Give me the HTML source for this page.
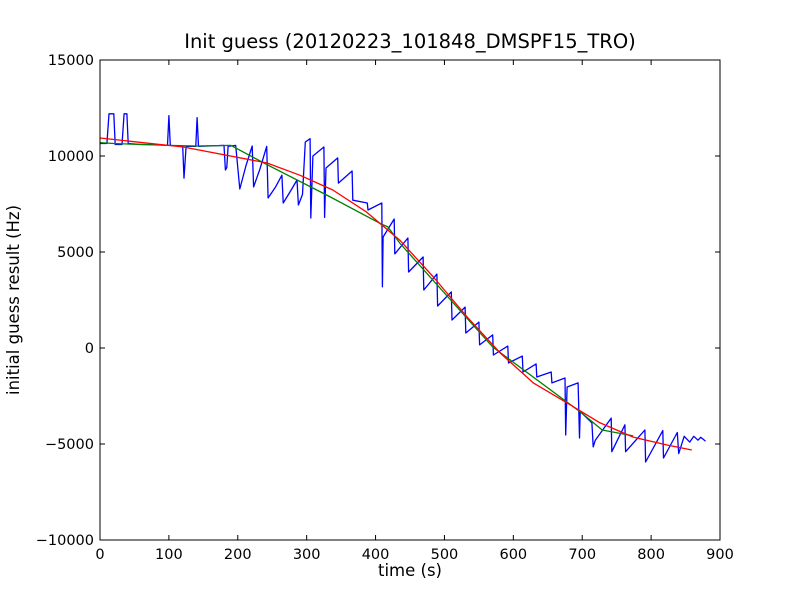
<!DOCTYPE html>
<html><head><meta charset="utf-8"><style>
body{margin:0;background:#fff;}
svg text{font-family:"DejaVu Sans","Liberation Sans",sans-serif;fill:#000;}
</style></head><body>
<svg id="chart" width="800" height="600" xmlns="http://www.w3.org/2000/svg">
<rect x="0" y="0" width="800" height="600" fill="#fff"/>
<text x="410" y="48" font-size="19.5" text-anchor="middle">Init guess (20120223_101848_DMSPF15_TRO)</text>
<g id="plot"></g>
<rect x="100" y="60" width="620" height="480" fill="none" stroke="#000" stroke-width="1"/>
<text x="410" y="576" font-size="16.5" text-anchor="middle">time (s)</text>
<text x="19" y="300" font-size="16.5" text-anchor="middle" transform="rotate(-90 19 300)">initial guess result (Hz)</text>
</svg>
<script>
const xTicks=[0,100,200,300,400,500,600,700,800,900];
const yTicks=[-10000,-5000,0,5000,10000,15000];
const blueT=[0,10,13,20,22,32,35,39,41,60,80,98,100,102,120,122,125,139,141,143,180,182,184,186,197,203,212,221,223,232,242,244,255,264,266,277,286,288,294,298,305,306,309,325,326,328,345,346,366,367,388,389,409,410,411,427,428,447,448,469,470,489,490,510,511,530,531,550,551,570,571,592,593,613,614,633,634,655,656,675,676,678,694,696,697,714,716,719,742,743,762,763,791,792,817,818,838,840,848,856,862,868,872,879];
const blueV=[10650,10650,12200,12200,10600,10600,12200,12200,10650,10600,10600,10550,12100,10550,10500,8850,10500,10500,12000,10500,10550,9270,9400,10500,10550,8280,9500,10520,8390,9300,10500,7810,8400,9000,7550,8200,8750,7450,8000,10730,10900,6770,10000,10470,6800,9375,9900,8590,9220,7700,7550,7190,7550,3180,5780,6720,4900,5730,3960,4740,3020,3850,2190,2920,1460,2130,780,1350,160,680,-365,100,-780,-420,-1250,-830,-1510,-1250,-1820,-1560,-4530,-2030,-1820,-4690,-3300,-3900,-5150,-4800,-3650,-5400,-4000,-5400,-4270,-5940,-4300,-5730,-4400,-5500,-4600,-4900,-4600,-4800,-4650,-4850];
const greenT=[0,20,60,100,140,190,245,329,406,418,435,570,697,729,774];
const greenV=[10700,10650,10600,10550,10520,10550,9500,7970,6500,6300,5470,50,-3330,-4270,-4580];
const redT=[0,121,242,290,338,387,435,484,533,581,629,678,726,774,823,859];
const redV=[10940,10470,9640,9000,8230,7080,5620,3700,1610,-260,-1820,-2860,-3900,-4640,-5050,-5310];
const X0=100,X1=720,Y0=540,Y1=60;
const xs=t=>X0+(t-0)/(900-0)*(X1-X0);
const ys=v=>Y0-(v+10000)/25000*(Y0-Y1);
const NS='http://www.w3.org/2000/svg';
const svg=document.getElementById('chart');
const plot=document.getElementById('plot');
function mk(tag,attrs,parent){const e=document.createElementNS(NS,tag);for(const k in attrs)e.setAttribute(k,attrs[k]);parent.appendChild(e);return e;}
xTicks.forEach(t=>{
  const x=xs(t);
  const a=mk('line',{x1:x,x2:x,y1:Y0,y2:Y0-5,stroke:'#000'},svg);
  
  
  const b=mk('line',{x1:x,x2:x,y1:Y1,y2:Y1+5,stroke:'#000'},svg);
  
  
  const l=mk('text',{x:x,y:Y0+19,'font-size':14.5,'text-anchor':'middle'},svg);
  l.textContent=t;
  
  
});
yTicks.forEach(v=>{
  const y=ys(v);
  const a=mk('line',{x1:X0,x2:X0+5,y1:y,y2:y,stroke:'#000'},svg);
  
  
  const b=mk('line',{x1:X1,x2:X1-5,y1:y,y2:y,stroke:'#000'},svg);
  
  
  const l=mk('text',{x:X0-6,y:y+5,'font-size':14.5,'text-anchor':'end'},svg);
  l.textContent=v<0?'\u2212'+(-v):String(v);
  
  
});
function line(T,V,color,name){
  const d=T.map((t,i)=>(i?'L':'M')+xs(t).toFixed(1)+','+ys(V[i]).toFixed(1)).join('');
  const p=mk('path',{d:d,fill:'none',stroke:color,'stroke-width':1.3,'stroke-linejoin':'round'},plot);
  
  
}
line(blueT,blueV,'#0000ff','measured-series-line');
line(greenT,greenV,'#008000','smoothed-series-line');
line(redT,redV,'#ff0000','fit-series-line');
</script>
</body></html>
